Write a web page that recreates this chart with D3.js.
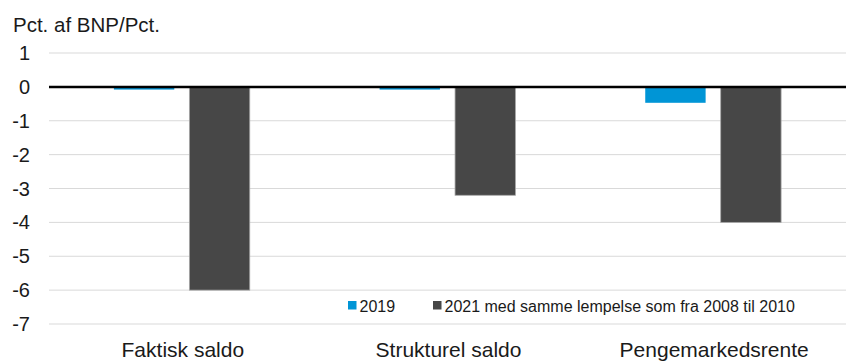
<!DOCTYPE html>
<html>
<head>
<meta charset="utf-8">
<script src="https://cdn.jsdelivr.net/npm/d3@7/dist/d3.min.js"></script>
<style>
  body { margin: 0; background: #fff; }
  svg { display: block; font-family: "Liberation Sans", Arial, sans-serif; }
</style>
</head>
<body>
<div id="chart"></div>
<script>
const categories = ["Faktisk saldo", "Strukturel saldo", "Pengemarkedsrente"];
const seriesNames = ["2019", "2021 med samme lempelse som fra 2008 til 2010"];
const values2019 = [-0.08, -0.08, -0.47];
const values2021 = [-6.0, -3.2, -4.0];
const yTicks = [1, 0, -1, -2, -3, -4, -5, -6, -7];

const width = 846;
const height = 361;
const margin = { top: 53, right: 0, bottom: 37, left: 49 };

const svg = d3.select("#chart")
  .append("svg")
  .attr("width", width)
  .attr("height", height);

const x = d3.scaleBand()
  .domain(categories)
  .range([margin.left, width - margin.right]);

// grouped bars inside each category
const x1 = d3.scaleBand()
  .domain(seriesNames)
  .range([0, x.bandwidth()])
  .paddingInner(0.2)
  .paddingOuter(0.86);

const y = d3.scaleLinear()
  .domain([1, -7])
  .range([margin.top, height - margin.bottom]);

const colors = d3.scaleOrdinal()
  .domain(seriesNames)
  .range(["#0095d6", "#474747"]);

// title
svg.append("text")
  .attr("x", 13)
  .attr("y", 32)
  .attr("fill", "#1a1a1a")
  .style("font-size", "20.5px")
  .text("Pct. af BNP/Pct.");

// gridlines
svg.append("g")
  .selectAll("line")
  .data(yTicks.filter(t => t !== 0))
  .join("line")
  .attr("x1", margin.left)
  .attr("x2", width - margin.right)
  .attr("y1", d => y(d))
  .attr("y2", d => y(d))
  .attr("stroke", "#d9d9d9")
  .attr("stroke-width", 1);

// y labels
svg.append("g")
  .selectAll("text")
  .data(yTicks)
  .join("text")
  .attr("x", 30)
  .attr("y", d => y(d))
  .attr("dy", "0.35em")
  .attr("text-anchor", "end")
  .attr("fill", "#1a1a1a")
  .style("font-size", "20px")
  .text(d => d);

const rows = categories.map((c, i) => ({ cat: c, vals: [values2019[i], values2021[i]] }));

// bars
svg.append("g")
  .selectAll("g")
  .data(rows)
  .join("g")
  .attr("transform", d => `translate(${x(d.cat)},0)`)
  .selectAll("rect")
  .data(d => d.vals.map((v, j) => ({ key: seriesNames[j], v })))
  .join("rect")
  .attr("x", d => x1(d.key))
  .attr("width", x1.bandwidth())
  .attr("y", d => y(Math.max(0, d.v)))
  .attr("height", d => Math.abs(y(d.v) - y(0)))
  .attr("fill", d => colors(d.key))
  .attr("stroke", d => d.key === seriesNames[1] ? "#a6a6a6" : "none")
  .attr("stroke-width", 0.8);

// zero line
svg.append("line")
  .attr("x1", margin.left)
  .attr("x2", width - margin.right)
  .attr("y1", y(0))
  .attr("y2", y(0))
  .attr("stroke", "#000")
  .attr("stroke-width", 2.5);

// category labels
svg.append("g")
  .selectAll("text")
  .data(categories)
  .join("text")
  .attr("x", d => x(d) + x.bandwidth() / 2 + 1)
  .attr("y", 357)
  .attr("text-anchor", "middle")
  .attr("fill", "#1a1a1a")
  .style("font-size", "21px")
  .text(d => d);

// legend
const legend = svg.append("g");
legend.append("rect")
  .attr("x", 340)
  .attr("y", y(-6) + 3)
  .attr("width", 470)
  .attr("height", y(-7) - y(-6) - 6)
  .attr("fill", "#fff");

const legendPos = [348, 433];
const items = legend.selectAll("g")
  .data(seriesNames)
  .join("g")
  .attr("transform", (d, i) => `translate(${legendPos[i]},301)`);

items.append("rect")
  .attr("width", 8.5)
  .attr("height", 8.5)
  .attr("fill", d => colors(d));

items.append("text")
  .attr("x", 11.5)
  .attr("y", 10.7)
  .attr("fill", "#1a1a1a")
  .style("font-size", "16px")
  .text(d => d);
</script>
</body>
</html>
